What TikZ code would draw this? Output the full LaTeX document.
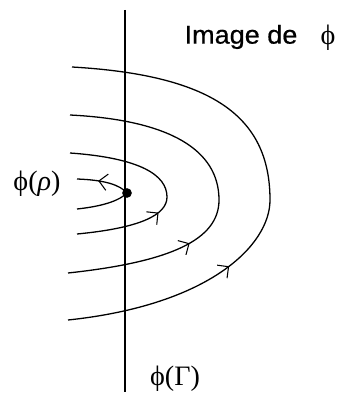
\documentclass[tikz,border=0pt]{standalone}
\usepackage{fontspec}
\setmainfont{Liberation Serif}
\newfontfamily\arialfont[FakeStretch=1.05, FakeBold=0.6]{Liberation Sans}
\usetikzlibrary{arrows.meta, decorations.markings}
\tikzset{
  orbite/.style={line width=1.1pt},
  fleche/.style={postaction={decorate}, decoration={markings,
      mark=at position #1 with {\arrow{Straight Barb[length=7pt,width=14pt,line width=0.9pt]}}}}
}

\begin{document}
\begin{tikzpicture}[x=0.03cm, y=-0.03cm]
  \useasboundingbox (0,0) rectangle (338,401);
  % Droite phi(Gamma)
  \coordinate (haut) at (125,10);
  \coordinate (bas) at (125,392);
  \draw[orbite, line width=1.3pt] (haut) -- (bas);
  % Point phi(rho)
  \node[circle, fill, inner sep=0pt, minimum size=0.29cm] (rho) at (127,193) {};
  % Orbites
  \draw[orbite, fleche=0.8] (77,209) .. controls (105,206) and (120,200) .. (rho.center)
        .. controls (120,185) and (105,180) .. (77,179);
  \draw[orbite, fleche=0.39] (77,234) .. controls (140,228) and (167,215) .. (167,197)
        .. controls (167,175) and (140,158) .. (70,153);
  \draw[orbite, fleche=0.34] (68,273) .. controls (170,262) and (219,240) .. (219,200)
        .. controls (219,150) and (170,120) .. (70,115);
  \draw[orbite, fleche=0.33] (68,320) .. controls (210,305) and (270,245) .. (270,200)
        .. controls (270,115) and (210,75) .. (72,67);
  % Textes
  \node[font=\arialfont\fontsize{22}{26}\selectfont] (titre) at (241,37) {Image de};
  \node[font=\fontsize{24}{28}\selectfont] (phi) at (328,38) {ϕ};
  \node[font=\fontsize{24}{28}\selectfont] (lrho) at (37,184) {ϕ(\textit{ρ})};
  \node[font=\fontsize{24}{28}\selectfont] (lgamma) at (175,379) {ϕ(Γ)};
\end{tikzpicture}
\end{document}
